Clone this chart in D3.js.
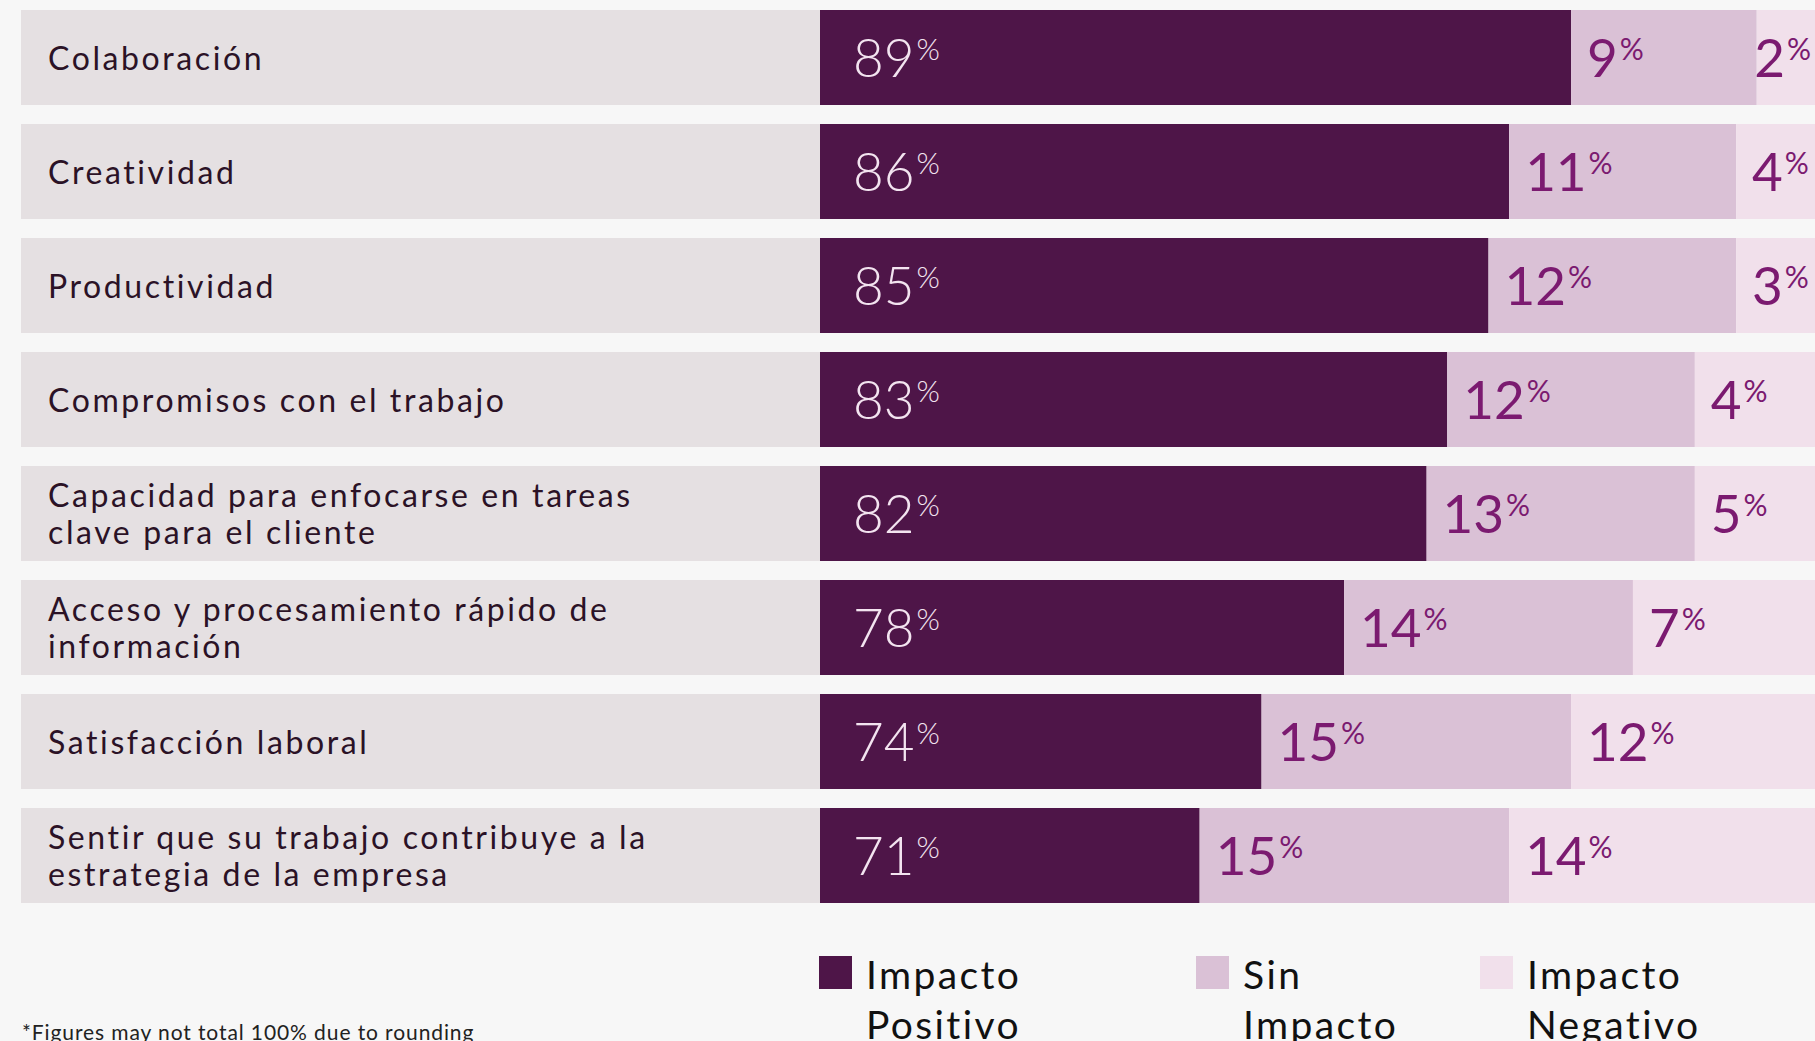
<!DOCTYPE html>
<html>
<head>
<meta charset="utf-8">
<script src="https://cdn.jsdelivr.net/npm/d3@7"></script>
<style>
  html, body { margin: 0; padding: 0; background: #f7f7f7; overflow: hidden; }
  svg { display: block; font-family: Lato, "Open Sans", sans-serif; }
</style>
</head>
<body>
<div id="chart"></div>
<script>
// Data
const categories = [
    "Colaboración",
    "Creatividad",
    "Productividad",
    "Compromisos con el trabajo",
    "Capacidad para enfocarse en tareas\nclave para el cliente",
    "Acceso y procesamiento rápido de\ninformación",
    "Satisfacción laboral",
    "Sentir que su trabajo contribuye a la\nestrategia de la empresa"
];
const positivo   = [89, 86, 85, 83, 82, 78, 74, 71];
const sinImpacto = [9, 11, 12, 12, 13, 14, 15, 15];
const negativo   = [2, 4, 3, 4, 5, 7, 12, 14];
const seriesNames = ["Impacto\nPositivo", "Sin\nImpacto", "Impacto\nNegativo"];
const footnote = "*Figures may not total 100% due to rounding";

// Layout / style
const width = 1815, height = 1041;
const colors = ["#4e1548", "#dac1d6", "#f1e0eb"];
const labelColors = ["#f3e4f0", "#7b1a70", "#7b1a70"];
const panelLeft = 21, barLeft = 820;
const legendX = [819, 1196, 1480];

const svg = d3.select('#chart').append('svg')
    .attr('width', width).attr('height', height);

const rows = categories.map((c, i) => ({cat: c, values: [positivo[i], sinImpacto[i], negativo[i]]}));
const series = d3.stack().keys([0, 1, 2]).value((d, k) => d.values[k])(rows);

const y = d3.scaleBand().domain(categories).range([10, 903]).paddingInner(19 / 114);
// bars are cut at the label panel: the visible part starts around 52.6%
const x = d3.scaleLinear().domain([52.6, 100]).range([barLeft, 1798]).clamp(true);

// label panels
svg.append('g').selectAll('rect')
    .data(categories)
    .join('rect')
    .attr('x', panelLeft).attr('y', d => y(d))
    .attr('width', barLeft - panelLeft).attr('height', y.bandwidth())
    .attr('fill', '#e5e0e2');

const catText = svg.append('g').selectAll('text')
    .data(categories)
    .join('text')
    .attr('font-size', 32)
    .attr('letter-spacing', 2.6)
    .attr('fill', '#2b1226');
catText.each(function(d){
    const lines = d.split('\n');
    const cy = y(d) + y.bandwidth() / 2 + 12 - (lines.length - 1) * 18.5;
    d3.select(this).selectAll('tspan')
        .data(lines)
        .join('tspan')
        .attr('x', 48)
        .attr('y', (l, i) => cy + i * 37)
        .text(l => l);
});

// stacked bars
const groups = svg.append('g').selectAll('g')
    .data(series)
    .join('g')
    .attr('fill', (s, k) => colors[k]);

groups.selectAll('rect')
    .data(s => s.map(d => Object.assign(d, {key: s.key})))
    .join('rect')
    .attr('x', d => x(d[0]))
    .attr('y', d => y(d.data.cat))
    .attr('width', d => d.key === 2 ? width - x(d[0]) : x(d[1]) - x(d[0]))
    .attr('height', y.bandwidth());

// value labels
const vals = groups.selectAll('text')
    .data(s => s)
    .join('text')
    .attr('x', d => x(d[0]) + (d.key === 0 ? 33 : 16))
    .attr('y', d => y(d.data.cat) + y.bandwidth() / 2 + 19)
    .attr('fill', d => labelColors[d.key])
    .attr('font-weight', d => d.key === 0 ? 300 : 400);
vals.append('tspan')
    .attr('font-size', 53)
    .text(d => d.data.values[d.key]);
vals.append('tspan')
    .attr('font-size', 30)
    .attr('dx', 2)
    .attr('dy', -17)
    .text('%');
// keep the last labels inside the frame
vals.attr('x', function(d){
    const len = this.getComputedTextLength();
    return Math.min(+this.getAttribute('x'), width - 6 - len);
});

// legend
const legend = svg.append('g').selectAll('g')
    .data(seriesNames)
    .join('g')
    .attr('transform', (d, i) => `translate(${legendX[i]},956)`);
legend.append('rect')
    .attr('width', 33).attr('height', 33)
    .attr('fill', (d, i) => colors[i]);
legend.append('text')
    .attr('font-size', 39)
    .attr('letter-spacing', 2.4)
    .attr('fill', '#111')
    .selectAll('tspan')
    .data(d => d.split('\n'))
    .join('tspan')
    .attr('x', 47)
    .attr('y', (l, i) => 33 + i * 50)
    .text(l => l);

svg.append('text')
    .attr('x', 22).attr('y', 1040)
    .attr('font-size', 21)
    .attr('letter-spacing', 0.9)
    .attr('fill', '#222')
    .text(footnote);
</script>
</body>
</html>
